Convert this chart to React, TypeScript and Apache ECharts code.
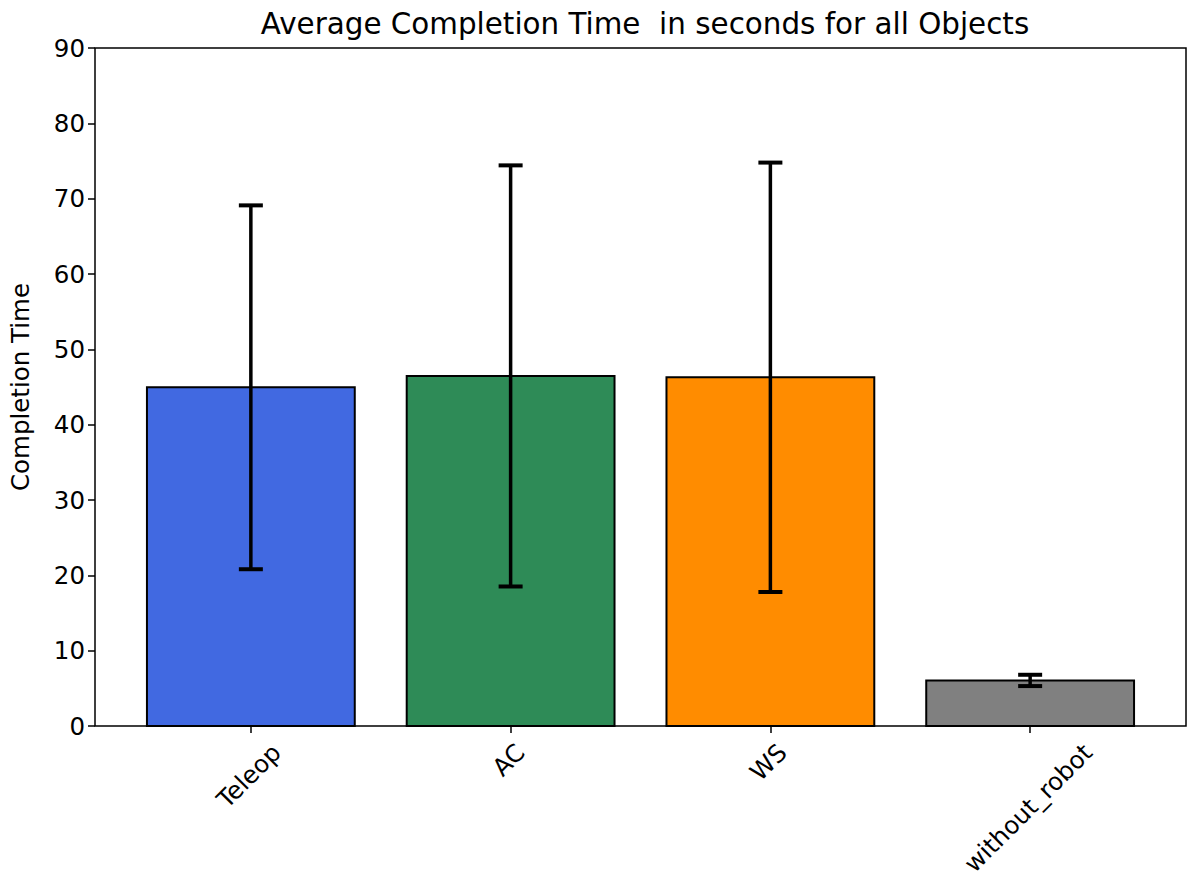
import React, { useEffect, useRef } from "react";
import * as echarts from "echarts";

const categories = ["Teleop", "AC", "WS", "without_robot"];
const means = [44.96, 46.47, 46.29, 6.05];
const errors = [24.15, 27.95, 28.5, 0.75];
const colors = ["#4169E1", "#2E8B57", "#FF8C00", "#808080"];
const yTicks = { min: 0, max: 90, interval: 10 };

const FONT = "DejaVu Sans";
const TICK_FS = 24.5;
const TITLE_FS = 29.4;

function measure(text: string, size: number): number {
  const c = document.createElement("canvas");
  const ctx = c.getContext("2d");
  if (!ctx) return text.length * size * 0.55;
  ctx.font = `${size}px "${FONT}"`;
  return ctx.measureText(text).width;
}

export default function App() {
  const ref = useRef<HTMLDivElement>(null);
  useEffect(() => {
    if (!ref.current) return;
    document.body.style.margin = "0";
    const chart = echarts.init(ref.current, undefined, { renderer: "svg" });
    const barData = categories.map((c, i) => [i, means[i], errors[i]]);
    chart.setOption({
      animation: false,
      backgroundColor: "#fff",
      title: {
        text: "Average Completion Time  in seconds for all Objects",
        left: 640,
        top: 4,
        textAlign: "center",
        textStyle: { fontFamily: FONT, fontSize: TITLE_FS, fontWeight: "normal", color: "#000" },
      },
      grid: {
        left: 93,
        right: 5,
        top: 48,
        bottom: 148,
        show: true,
        borderColor: "#000",
        borderWidth: 1.5,
        backgroundColor: "transparent",
      },
      xAxis: {
        type: "value",
        min: -0.6,
        max: 3.6,
        axisLine: { show: false, onZero: false },
        splitLine: { show: false },
        axisTick: {
          show: true,
          customValues: [0, 1, 2, 3],
          length: 7,
          lineStyle: { color: "#000", width: 1.5 },
        },
        axisLabel: { show: false },
      },
      yAxis: {
        type: "value",
        min: yTicks.min,
        max: yTicks.max,
        interval: yTicks.interval,
        name: "Completion Time",
        nameLocation: "middle",
        nameGap: 62,
        nameRotate: 90,
        nameTextStyle: { fontFamily: FONT, fontSize: TICK_FS, color: "#000" },
        axisLine: { show: false, onZero: false },
        splitLine: { show: false },
        axisTick: { show: true, length: 7, lineStyle: { color: "#000", width: 1.5 } },
        axisLabel: { fontFamily: FONT, fontSize: TICK_FS, color: "#000", margin: 10 },
      },
      series: [
        {
          type: "custom",
          data: barData,
          encode: { x: 0, y: 1 },
          renderItem: (params: any, api: any) => {
            const i = api.value(0);
            const m = api.value(1);
            const p1 = api.coord([i - 0.4, m]);
            const p2 = api.coord([i + 0.4, 0]);
            return {
              type: "rect",
              shape: { x: p1[0], y: p1[1], width: p2[0] - p1[0], height: p2[1] - p1[1] },
              style: { fill: colors[params.dataIndex], stroke: "#000", lineWidth: 2 },
            };
          },
        },
        {
          type: "custom",
          data: barData,
          encode: { x: 0, y: 1 },
          z: 5,
          renderItem: (params: any, api: any) => {
            const i = api.value(0);
            const m = api.value(1);
            const e = api.value(2);
            const top = api.coord([i, m + e]);
            const bot = api.coord([i, m - e]);
            const cap = 12;
            const st = { stroke: "#000", lineWidth: 4 };
            return {
              type: "group",
              children: [
                { type: "line", shape: { x1: top[0], y1: top[1], x2: bot[0], y2: bot[1] }, style: { ...st, lineWidth: 3.5 } },
                { type: "line", shape: { x1: top[0] - cap, y1: top[1], x2: top[0] + cap, y2: top[1] }, style: st },
                { type: "line", shape: { x1: bot[0] - cap, y1: bot[1], x2: bot[0] + cap, y2: bot[1] }, style: st },
              ],
            };
          },
        },
        {
          type: "custom",
          data: barData,
          encode: { x: 0, y: 1 },
          clip: false,
          renderItem: (params: any, api: any) => {
            const i = api.value(0);
            const label = categories[params.dataIndex];
            const base = api.coord([i, 0]);
            const L = measure(label, TICK_FS);
            const h = TICK_FS * 0.95;
            const half = (L + h) / (2 * Math.SQRT2);
            return {
              type: "text",
              x: base[0] - 2,
              y: base[1] + 14 + half,
              rotation: Math.PI / 4,
              style: {
                text: label,
                fontFamily: FONT,
                fontSize: TICK_FS,
                fill: "#000",
                align: "center",
                verticalAlign: "middle",
              },
            };
          },
        },
      ],
    });
    return () => chart.dispose();
  }, []);
  return (
    <div
      ref={ref}
      style={{ position: "absolute", left: 0, top: 0, width: 1191, height: 874 }}
    />
  );
}
